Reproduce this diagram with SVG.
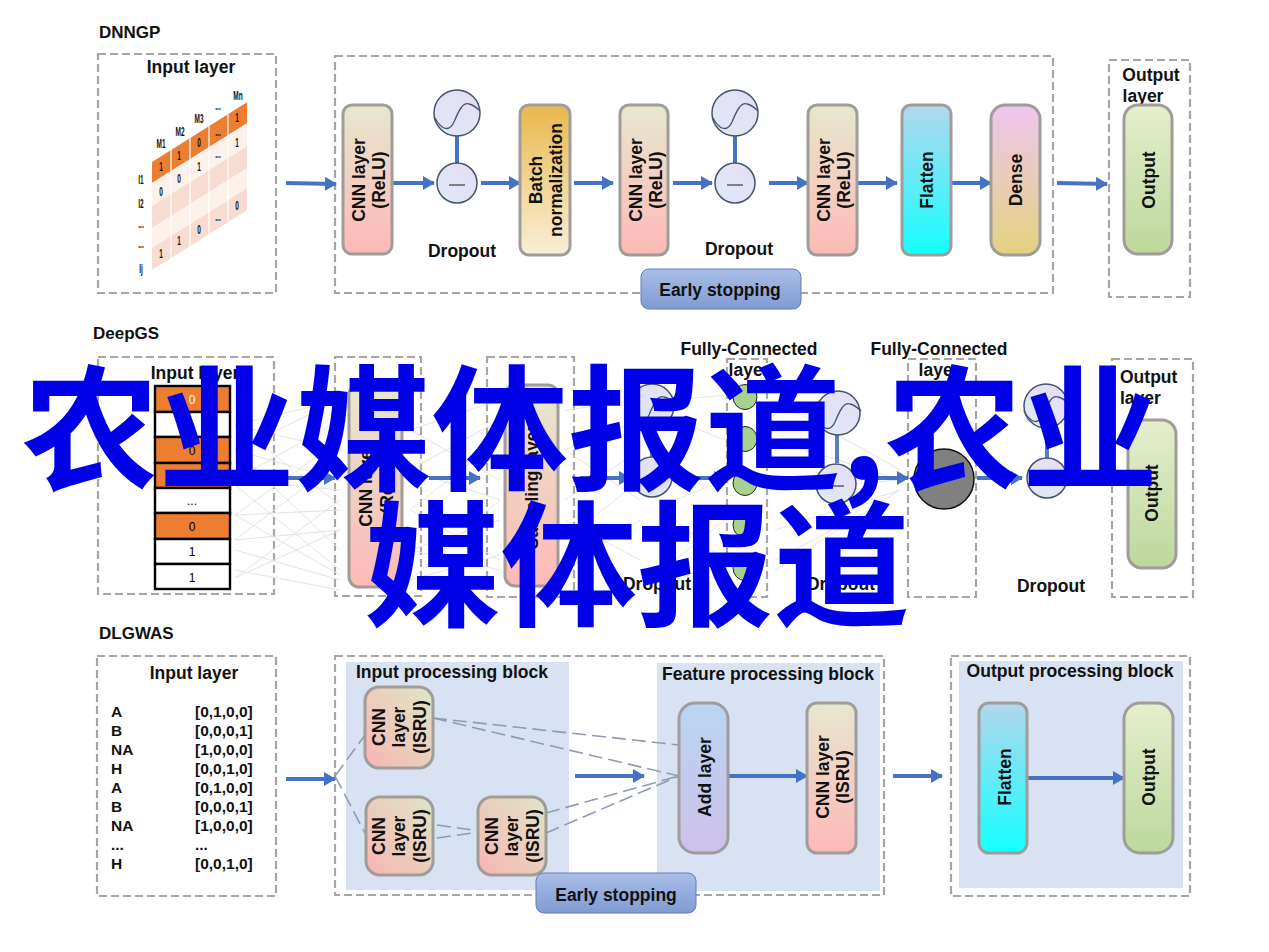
<svg xmlns="http://www.w3.org/2000/svg" width="1269" height="952" viewBox="0 0 1269 952">
<style>
text{font-family:"Liberation Sans",Arial,sans-serif;font-weight:bold;fill:#111;font-size:17.5px}
.m{text-anchor:middle}
.r{text-anchor:middle}
.title{font-size:17px}
.d{fill:none;stroke:#a6a6a6;stroke-width:2.2;stroke-dasharray:8 4}
.n{stroke:#a09c9a;stroke-width:3}
.cnn{fill:url(#gCnn)}.batch{fill:url(#gBatch)}.flat{fill:url(#gFlat)}.dense{fill:url(#gDense)}.out{fill:url(#gOut)}.add{fill:url(#gAdd)}.cnn2{fill:url(#gCnn2)}
.es{fill:url(#gEs);stroke:#5f7fb5;stroke-width:1}
.c{fill:url(#gCirc);stroke:#44546a;stroke-width:1.5}
.bar{stroke:#4472c4;stroke-width:4;fill:none}
.arrow{stroke:#4472c4;stroke-width:4;fill:none;marker-end:url(#ah)}
.dash{stroke:#8e9bb0;stroke-width:1.6;fill:none;stroke-dasharray:14 6}
.faint{stroke:#e4e4e4;stroke-width:1;fill:none}
.block{fill:#d9e2f3}
.wave{fill:none;stroke:#44546a;stroke-width:1.3}
.minus{stroke:#7f7f7f;stroke-width:2}
.cell{stroke:#000;stroke-width:2.4}
.sm{font-size:12px;font-weight:normal;fill:#000}
.tiny{font-size:13px;text-anchor:middle}
.mono{font-size:15.500px}
.es-t{font-size:17.500px}
.over{font-family:"Noto Sans CJK SC","Noto Sans CJK JP",sans-serif;font-weight:bold;font-size:136.500px;fill:#0000e6}
</style>
<defs>
<linearGradient id="gCnn" x1="0" y1="0" x2="0" y2="1"><stop offset="0" stop-color="#e6e8cd"/><stop offset="1" stop-color="#fdb9b6"/></linearGradient>
<linearGradient id="gCnn2" x1="1" y1="0" x2="0" y2="1"><stop offset="0" stop-color="#dfe6c6"/><stop offset="1" stop-color="#f8b5b2"/></linearGradient>
<linearGradient id="gBatch" x1="0" y1="0" x2="0" y2="1"><stop offset="0" stop-color="#e9b84c"/><stop offset="1" stop-color="#f8efd8"/></linearGradient>
<linearGradient id="gFlat" x1="0" y1="0" x2="0" y2="1"><stop offset="0" stop-color="#b3d7ee"/><stop offset="1" stop-color="#14ffff"/></linearGradient>
<linearGradient id="gDense" x1="0" y1="0" x2="0" y2="1"><stop offset="0" stop-color="#eec6f0"/><stop offset="1" stop-color="#e3d27f"/></linearGradient>
<linearGradient id="gOut" x1="0" y1="0" x2="0" y2="1"><stop offset="0" stop-color="#e5eecb"/><stop offset="1" stop-color="#bdd89c"/></linearGradient>
<linearGradient id="gAdd" x1="0" y1="0" x2="0" y2="1"><stop offset="0" stop-color="#b8d5f1"/><stop offset="1" stop-color="#cfc1ea"/></linearGradient>
<linearGradient id="gEs" x1="0" y1="0" x2="0" y2="1"><stop offset="0" stop-color="#a9bee8"/><stop offset="1" stop-color="#7f9bd2"/></linearGradient>
<linearGradient id="gCirc" x1="1" y1="0" x2="0" y2="1"><stop offset="0" stop-color="#e6dcf3"/><stop offset="1" stop-color="#deeaf8"/></linearGradient>
<marker id="ah" markerUnits="userSpaceOnUse" markerWidth="12" markerHeight="14" refX="11" refY="7" orient="auto"><path d="M0 0L12 7L0 14Z" fill="#4472c4"/></marker>
<path id="wave" d="M-22 5C-16 16-8 20-3 9C2-3 6-11 12-9C17-8 20-5 23-2"/>
</defs>

<g id="dnngp">
<text class="title" x="99" y="38">DNNGP</text>
<rect class="d" x="98" y="54" width="178" height="239"/>
<rect class="d" x="335" y="56" width="718" height="237"/>
<rect class="d" x="1109" y="60" width="81" height="237"/>
</g>

<g id="dnngp-input">
<text class="m" x="191" y="73">Input layer</text>
<g transform="matrix(1,-0.63,0,1,152,162)">
<rect width="95" height="21" fill="#ed7d31"/>
<rect y="21" width="95" height="23" fill="#fdf1ec"/>
<rect y="44" width="95" height="22" fill="#f9dcd1"/>
<rect y="66" width="95" height="20" fill="#fdf1ec"/>
<rect y="86" width="95" height="22" fill="#f9dcd1"/>
<path d="M19 0V108M38 0V108M57 0V108M76 0V108" stroke="#fff" stroke-width="1.200"/>
</g>
<g>
<text class="tiny" transform="translate(161 171) scale(.5 1)">1</text><text class="tiny" transform="translate(179 160) scale(.5 1)">1</text><text class="tiny" transform="translate(199 147) scale(.5 1)">0</text><text class="tiny" transform="translate(218 136) scale(.5 1)">...</text><text class="tiny" transform="translate(237 122) scale(.5 1)">1</text>
<text class="tiny" transform="translate(161 196) scale(.5 1)">0</text><text class="tiny" transform="translate(179 183) scale(.5 1)">0</text><text class="tiny" transform="translate(199 171) scale(.5 1)">1</text><text class="tiny" transform="translate(218 158) scale(.5 1)">...</text><text class="tiny" transform="translate(237 147) scale(.5 1)">1</text>
<text class="tiny" transform="translate(237 210) scale(.5 1)">0</text>
<text class="tiny" transform="translate(161 258) scale(.5 1)">1</text><text class="tiny" transform="translate(179 245) scale(.5 1)">1</text><text class="tiny" transform="translate(199 234) scale(.5 1)">0</text><text class="tiny" transform="translate(218 221) scale(.5 1)">...</text>
<text class="tiny" transform="translate(161 148) scale(.5 1)">M1</text><text class="tiny" transform="translate(180 136) scale(.5 1)">M2</text><text class="tiny" transform="translate(199 123) scale(.5 1)">M3</text><text class="tiny" transform="translate(218 110) scale(.5 1)">...</text><text class="tiny" transform="translate(238 100) scale(.5 1)">Mn</text>
<text class="tiny" transform="translate(141 184) scale(.5 1)">I1</text><text class="tiny" transform="translate(141 208) scale(.5 1)">I2</text><text class="tiny" transform="translate(141 228) scale(.5 1)">...</text><text class="tiny" transform="translate(141 248) scale(.5 1)">...</text><text class="tiny" transform="translate(141 273) scale(.5 1)">Ij</text>
</g>
</g>

<g id="connectors-dnngp">
<path class="bar" d="M457 135V163"/><path class="bar" d="M735 135V163"/>
<path class="arrow" d="M286 183L336 184"/>
<path class="arrow" d="M393 183H434"/>
<path class="arrow" d="M481 183H520"/>
<path class="arrow" d="M574 183H613"/>
<path class="arrow" d="M673 183H712"/>
<path class="arrow" d="M769 183H808"/>
<path class="arrow" d="M858 183H897"/>
<path class="arrow" d="M952 183H991"/>
<path class="arrow" d="M1057 183L1107 184"/>
</g>

<g id="dn-cnn1"><rect class="n cnn" x="343" y="105" width="49" height="149" rx="9"/><text class="r" transform="translate(365 180) rotate(-90)">CNN layer</text><text class="r" transform="translate(385 180) rotate(-90)">(ReLU)</text></g>
<g id="dn-drop1"><circle class="c" cx="457" cy="113" r="23"/><use href="#wave" class="wave" x="457" y="113"/><circle class="c" cx="457" cy="183" r="20"/><path class="minus" d="M449 185H465"/><text class="m" x="462" y="257">Dropout</text></g>
<g id="dn-batch"><rect class="n batch" x="520" y="105" width="50" height="150" rx="9"/><text class="r" transform="translate(542 180) rotate(-90)">Batch</text><text class="r" transform="translate(562 180) rotate(-90)">normalization</text></g>
<g id="dn-cnn2"><rect class="n cnn" x="620" y="105" width="48" height="150" rx="9"/><text class="r" transform="translate(642 180) rotate(-90)">CNN layer</text><text class="r" transform="translate(662 180) rotate(-90)">(ReLU)</text></g>
<g id="dn-drop2"><circle class="c" cx="735" cy="113" r="23"/><use href="#wave" class="wave" x="735" y="113"/><circle class="c" cx="735" cy="183" r="20"/><path class="minus" d="M727 185H743"/><text class="m" x="739" y="255">Dropout</text></g>
<g id="dn-cnn3"><rect class="n cnn" x="808" y="105" width="49" height="150" rx="9"/><text class="r" transform="translate(830 180) rotate(-90)">CNN layer</text><text class="r" transform="translate(850 180) rotate(-90)">(ReLU)</text></g>
<g id="dn-flatten"><rect class="n flat" x="902" y="105" width="49" height="150" rx="9"/><text class="r" transform="translate(933 180) rotate(-90)">Flatten</text></g>
<g id="dn-dense"><rect class="n dense" x="991" y="105" width="49" height="150" rx="14"/><text class="r" transform="translate(1022 180) rotate(-90)">Dense</text></g>
<g id="dn-output"><text class="m" x="1151" y="81">Output</text><text class="m" x="1143" y="102">layer</text><rect class="n out" x="1124" y="105" width="48" height="149" rx="14"/><text class="r" transform="translate(1155 180) rotate(-90)">Output</text></g>
<g id="dn-early"><rect class="es" x="641" y="269" width="160" height="40" rx="8"/><text class="m es-t" x="720" y="296">Early stopping</text></g>

<g id="deepgs">
<text class="title" x="93" y="339">DeepGS</text>
<rect class="d" x="98" y="357" width="176" height="237"/>
<rect class="d" x="335" y="357" width="86" height="239"/>
<rect class="d" x="487" y="357" width="87" height="240"/>
<rect class="d" x="727" y="359" width="40" height="238"/>
<rect class="d" x="908" y="359" width="68" height="238"/>
<rect class="d" x="1112" y="359" width="81" height="238"/>
</g>

<g id="connectors-deepgs">
<path class="faint" d="M235 425L340 400M235 425L340 450M235 425L340 505M235 450L340 400M235 450L340 480M235 450L340 550M235 480L340 420M235 480L340 490M235 485L340 570M235 515L340 440M235 515L340 510M235 515L340 575M235 540L340 460M235 540L340 530M235 550L340 580M235 578L340 500M235 578L340 530M235 570L340 590"/>
<path class="faint" d="M410 430L500 400M410 430L500 480M410 470L500 420M410 470L500 500M410 510L500 440M410 510L500 560M410 550L500 520M410 550L500 570M410 580L500 500M410 580L500 555"/>
<path class="faint" d="M565 410L640 400M565 450L640 420M565 500L640 450M565 540L640 480M565 450L640 500M565 520L640 560M565 570L640 520"/>
<path class="faint" d="M675 400L725 395M675 420L725 440M675 500L725 480M675 520L725 560M675 560L725 520M675 570L725 580"/>
<path class="faint" d="M775 400L900 470M775 440L900 480M775 490L900 480M775 530L900 490M775 570L900 490M775 560L870 510"/>
<path class="bar" d="M652 428V457" style="stroke:#5b7fae"/><path class="bar" d="M837 435V463" style="stroke:#5b7fae"/><path class="bar" d="M1047 428V458" style="stroke:#5b7fae"/>
<path class="arrow" d="M288 478H335"/>
<path class="arrow" d="M429 478H480"/>
<path class="arrow" d="M580 478H630"/>
<path class="arrow" d="M675 478H725"/>
<path class="arrow" d="M868 478H908"/>
<path class="arrow" d="M977 478H1022"/>
<path class="arrow" d="M1070 478H1110"/>
</g>

<g id="dg-input">
<text class="m" x="195" y="379">Input layer</text>
<rect class="cell" x="155" y="386" width="75" height="26" fill="#ed7d31"/>
<rect class="cell" x="155" y="412" width="75" height="25" fill="#fff"/>
<rect class="cell" x="155" y="437" width="75" height="26" fill="#ed7d31"/>
<rect class="cell" x="155" y="463" width="75" height="25" fill="#ed7d31"/>
<rect class="cell" x="155" y="488" width="75" height="25" fill="#fff"/>
<rect class="cell" x="155" y="513" width="75" height="26" fill="#ed7d31"/>
<rect class="cell" x="155" y="539" width="75" height="25" fill="#fff"/>
<rect class="cell" x="155" y="564" width="75" height="25" fill="#fff"/>
<text class="sm m" x="192" y="404" style="fill:#fff">0</text>
<text class="sm m" x="192" y="455">0</text>
<text class="sm m" x="192" y="505">...</text>
<text class="sm m" x="192" y="531">0</text>
<text class="sm m" x="192" y="556">1</text>
<text class="sm m" x="192" y="582">1</text>
</g>
<g id="dg-cnn"><rect class="n cnn" x="349" y="385" width="53" height="202" rx="10"/><text class="r" transform="translate(372 485) rotate(-90)">CNN layer</text><text class="r" transform="translate(393 485) rotate(-90)">(ReLU)</text></g>
<g id="dg-sampling"><rect class="n cnn" x="505" y="385" width="53" height="201" rx="10"/><text class="r" transform="translate(538 487) rotate(-90)">Sampling layer</text></g>
<g id="dg-drop1"><circle class="c" cx="652" cy="406" r="22"/><use href="#wave" class="wave" x="652" y="406"/><circle class="c" cx="652" cy="477" r="20"/><path class="minus" d="M644 479H660"/><text class="m" x="657" y="590">Dropout</text></g>
<g id="dg-fc1"><text class="m" x="749" y="355">Fully-Connected</text><text class="m" x="749" y="376">layer</text>
<ellipse cx="745" cy="397" rx="12" ry="12.500" fill="#a9d18e" stroke="#222"/><ellipse cx="745" cy="439" rx="12" ry="12.500" fill="#a9d18e" stroke="#222"/><ellipse cx="745" cy="483" rx="12" ry="12.500" fill="#a9d18e" stroke="#222"/><ellipse cx="745" cy="525" rx="12" ry="12.500" fill="#a9d18e" stroke="#222"/><ellipse cx="745" cy="568" rx="12" ry="12.500" fill="#a9d18e" stroke="#222"/></g>
<g id="dg-drop2"><circle class="c" cx="838" cy="413" r="22"/><use href="#wave" class="wave" x="838" y="413"/><circle class="c" cx="836" cy="484" r="20"/><path class="minus" d="M828 486H844"/><text class="m" x="841" y="590">Dropout</text></g>
<g id="dg-fc2"><text class="m" x="939" y="355">Fully-Connected</text><text class="m" x="939" y="376">layer</text><circle cx="944" cy="479" r="30" fill="#808080" stroke="#111" stroke-width="1.500"/></g>
<g id="dg-drop3"><circle class="c" cx="1046" cy="406" r="22"/><use href="#wave" class="wave" x="1046" y="406"/><circle class="c" cx="1047" cy="478" r="20"/><path class="minus" d="M1039 480H1055"/><text class="m" x="1051" y="592">Dropout</text></g>
<g id="dg-output"><text x="1120" y="383">Output</text><text x="1120" y="404">layer</text><rect class="n out" x="1128" y="420" width="48" height="148" rx="14"/><text class="r" transform="translate(1158 493) rotate(-90)">Output</text></g>

<g id="dlgwas">
<text class="title" x="99" y="639">DLGWAS</text>
<rect class="d" x="97" y="656" width="179" height="240"/>
<rect class="block" x="346" y="662" width="223" height="228"/>
<rect class="block" x="657" y="663" width="223" height="228"/>
<rect class="block" x="959" y="661" width="224" height="227"/>
<rect class="d" x="335" y="656" width="549" height="239"/>
<rect class="d" x="951" y="656" width="239" height="240"/>
<text x="452" y="678" class="m" textLength="192" lengthAdjust="spacingAndGlyphs">Input processing block</text>
<text x="768" y="680" class="m" textLength="212" lengthAdjust="spacingAndGlyphs">Feature processing block</text>
<text x="1070" y="677" class="m" textLength="207" lengthAdjust="spacingAndGlyphs">Output processing block</text>
</g>

<g id="dl-input">
<text class="m" x="194" y="679">Input layer</text>
<text class="mono" x="111" y="717">A</text><text class="mono" x="195" y="717">[0,1,0,0]</text>
<text class="mono" x="111" y="736">B</text><text class="mono" x="195" y="736">[0,0,0,1]</text>
<text class="mono" x="111" y="755">NA</text><text class="mono" x="195" y="755">[1,0,0,0]</text>
<text class="mono" x="111" y="774">H</text><text class="mono" x="195" y="774">[0,0,1,0]</text>
<text class="mono" x="111" y="793">A</text><text class="mono" x="195" y="793">[0,1,0,0]</text>
<text class="mono" x="111" y="812">B</text><text class="mono" x="195" y="812">[0,0,0,1]</text>
<text class="mono" x="111" y="831">NA</text><text class="mono" x="195" y="831">[1,0,0,0]</text>
<text class="mono" x="111" y="850">...</text><text class="mono" x="195" y="850">...</text>
<text class="mono" x="111" y="869">H</text><text class="mono" x="195" y="869">[0,0,1,0]</text>
</g>

<g id="connectors-dlgwas">
<path class="arrow" d="M286 779H335"/>
<path class="arrow" d="M575 776H644"/>
<path class="arrow" d="M729 776H807"/>
<path class="arrow" d="M893 776H942"/>
<path class="arrow" d="M1027 778H1124"/>
<path class="dash" d="M335 776L365 735"/>
<path class="dash" d="M335 776L366 835"/>
<path class="dash" d="M433 718L679 745"/>
<path class="dash" d="M433 718L679 776"/>
<path class="dash" d="M437 825L473 830"/>
<path class="dash" d="M437 838L473 833"/>
<path class="dash" d="M546 813L679 776"/>
<path class="dash" d="M546 833L679 776"/>
</g>

<g id="dl-cnn-a"><rect class="n cnn2" x="365" y="687" width="68" height="81" rx="14"/><text class="r" transform="translate(385 727) rotate(-90)">CNN</text><text class="r" transform="translate(405 727) rotate(-90)">layer</text><text class="r" transform="translate(426 727) rotate(-90)">(ISRU)</text></g>
<g id="dl-cnn-b"><rect class="n cnn2" x="366" y="797" width="67" height="78" rx="14"/><text class="r" transform="translate(385 836) rotate(-90)">CNN</text><text class="r" transform="translate(405 836) rotate(-90)">layer</text><text class="r" transform="translate(426 836) rotate(-90)">(ISRU)</text></g>
<g id="dl-cnn-c"><rect class="n cnn2" x="478" y="797" width="68" height="78" rx="14"/><text class="r" transform="translate(498 836) rotate(-90)">CNN</text><text class="r" transform="translate(518 836) rotate(-90)">layer</text><text class="r" transform="translate(539 836) rotate(-90)">(ISRU)</text></g>
<g id="dl-add"><rect class="n add" x="679" y="703" width="49" height="150" rx="16"/><text class="r" transform="translate(711 777) rotate(-90)">Add layer</text></g>
<g id="dl-cnn-d"><rect class="n cnn" x="807" y="703" width="49" height="150" rx="10"/><text class="r" transform="translate(829 777) rotate(-90)">CNN layer</text><text class="r" transform="translate(849 777) rotate(-90)">(ISRU)</text></g>
<g id="dl-flatten"><rect class="n flat" x="979" y="703" width="48" height="150" rx="10"/><text class="r" transform="translate(1011 777) rotate(-90)">Flatten</text></g>
<g id="dl-output"><rect class="n out" x="1124" y="703" width="49" height="150" rx="16"/><text class="r" transform="translate(1155 777) rotate(-90)">Output</text></g>
<g id="dl-early"><rect class="es" x="536" y="873" width="160" height="40" rx="8"/><text class="m es-t" x="616" y="901">Early stopping</text></g>

<g id="overlay">
<text class="over" x="22" y="480">农业媒体报道,农业</text>
<text class="over" x="364" y="616">媒体报道</text>
</g>
</svg>
